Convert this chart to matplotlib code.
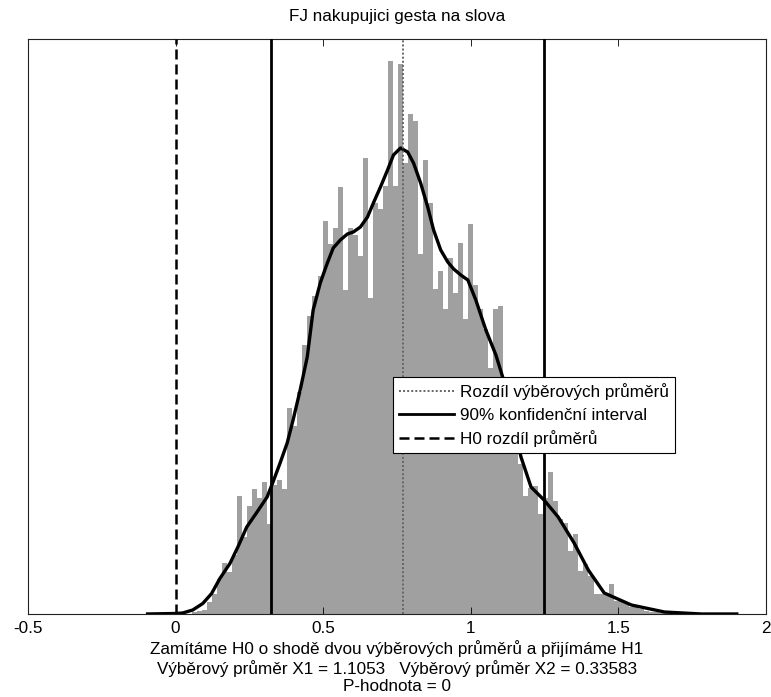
import numpy as np
import matplotlib.pyplot as plt

plt.rcParams['font.family'] = ['Liberation Sans', 'DejaVu Sans']

# histogram of bootstrap differences (counts)
bin_start = 0.0557
bin_width = 0.017
counts = [2, 3, 4, 12, 20, 35, 51, 42, 59, 118,
          77, 108, 125, 116, 132, 90, 129, 134, 125, 206,
          188, 222, 269, 298, 318, 338, 393, 370, 386, 427,
          324, 386, 379, 358, 456, 316, 411, 405, 428, 553,
          428, 550, 451, 500, 493, 360, 454, 411, 325, 343,
          305, 356, 321, 371, 295, 390, 329, 305, 285, 246,
          305, 308, 235, 210, 180, 150, 118, 126, 128, 100,
          116, 142, 113, 95, 91, 63, 80, 43, 50, 38,
          20, 20, 20, 30, 13, 13, 11, 7, 8, 5,
          3, 2, 2, 1, 1]

# kernel density estimate (same scale as counts)
kde_x = [-0.095, -0.003, 0.024, 0.058, 0.092, 0.122, 0.150, 0.184, 0.211, 0.241,
         0.276, 0.310, 0.330, 0.354, 0.378, 0.398, 0.422, 0.446, 0.466, 0.490,
         0.514, 0.534, 0.558, 0.582, 0.602, 0.626, 0.650, 0.670, 0.694, 0.718,
         0.738, 0.762, 0.786, 0.806, 0.830, 0.854, 0.874, 0.898, 0.922, 0.942,
         0.966, 0.990, 1.017, 1.051, 1.085, 1.109, 1.136, 1.170, 1.204, 1.248,
         1.296, 1.350, 1.398, 1.452, 1.544, 1.656, 1.782, 1.901]
kde_y = [0, 0.5, 1, 4, 10.5, 20.5, 35.5, 50.5, 67, 87,
         102, 117, 132, 151, 171, 194, 224, 257, 304, 331,
         351, 366, 374, 380, 382, 387, 397, 411, 427, 444,
         459, 466, 462, 451, 431, 407, 384, 364, 352, 345,
         339, 334, 314, 284, 259, 236, 201, 157, 127, 114,
         97, 71, 44, 21, 9, 2, 0, 0]

mean_x1 = 1.1053
mean_x2 = 0.33583
ci_low = 0.323
ci_high = 1.248
h0_diff = 0
p_value = 0

title = 'FJ nakupujici gesta na slova'
xlabel = ('Zamítáme H0 o shodě dvou výběrových průměrů a přijímáme H1\n'
          'Výběrový průměr X1 = %g   Výběrový průměr X2 = %g\n'
          'P-hodnota = %g' % (mean_x1, mean_x2, p_value))
legend_labels = ['Rozdíl výběrových průměrů', '90% konfidenční interval',
                 'H0 rozdíl průměrů']

fs = 12.3

fig = plt.figure(figsize=(7.71, 6.97), dpi=100)
ax = fig.add_axes([28 / 771, 83 / 697, 738 / 771, 575 / 697])

edges = bin_start + bin_width * np.arange(len(counts))
ax.bar(edges, counts, width=bin_width, align='edge', color='#a0a0a0',
       linewidth=0, zorder=1)
ax.plot(kde_x, kde_y, color='black', linewidth=2.4, zorder=3)

diff = mean_x1 - mean_x2
l1 = ax.axvline(diff, color='#666666', linewidth=1.4, linestyle=(0, (1, 1.1)), zorder=4)
l2 = ax.axvline(ci_low, color='black', linewidth=2.0, zorder=4)
ax.axvline(ci_high, color='black', linewidth=2.0, zorder=4)
l3 = ax.axvline(h0_diff, color='black', linewidth=1.8, linestyle=(0, (4, 2)), zorder=4)

ax.set_xlim(-0.5, 2)
ax.set_ylim(0, 575)
ax.set_xticks([-0.5, 0, 0.5, 1, 1.5, 2])
ax.set_xticklabels(['-0.5', '0', '0.5', '1', '1.5', '2'])
ax.set_yticks([])
ax.tick_params(axis='x', direction='in', top=True, length=5, width=0.6,
               labelsize=fs, pad=5)
for s in ax.spines.values():
    s.set_linewidth(0.8)
    s.set_color('#222222')

ax.set_title(title, fontsize=fs, pad=13)
ax.set_xlabel(xlabel, fontsize=fs, linespacing=1.2, labelpad=3)

leg = ax.legend([l1, l2, l3], legend_labels, loc='upper left',
                bbox_to_anchor=(0.495, 0.412), fontsize=fs, fancybox=False,
                framealpha=1, edgecolor='black', handlelength=3.2,
                handletextpad=0.35, labelspacing=0.45, borderpad=0.35,
                borderaxespad=0)
leg.get_frame().set_linewidth(0.8)

fig.savefig('out.png', dpi=100)
